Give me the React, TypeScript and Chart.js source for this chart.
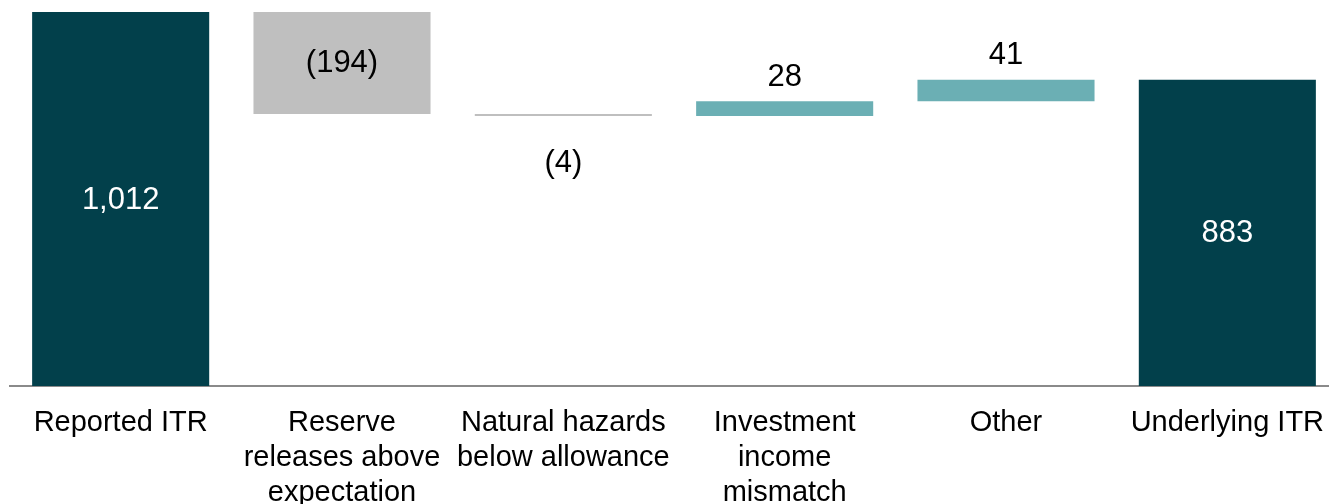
import React, { useEffect, useRef } from "react";
import { Chart, registerables } from "chart.js";

Chart.register(...registerables);

// ---- data ----
const categories: string[][] = [
  ["Reported ITR"],
  ["Reserve", "releases above", "expectation"],
  ["Natural hazards", "below allowance"],
  ["Investment", "income", "mismatch"],
  ["Other"],
  ["Underlying ITR"],
];
const startTotal = 1012;
const changes = [-194, -4, 28, 41];
const endTotal = 883;
const yMin = 300;
const yMax = 1012;

// ---- styles ----
const TOTAL_COLOR = "#02404B";
const NEG_COLOR = "#BFBFBF";
const POS_COLOR = "#6BAFB4";
const FONT = "'Liberation Sans', Arial, sans-serif";

function buildRanges() {
  const ranges: [number, number][] = [[0, startTotal]];
  const colors: string[] = [TOTAL_COLOR];
  const values: number[] = [startTotal];
  const kinds: string[] = ["total"];
  let run = startTotal;
  for (const c of changes) {
    ranges.push([run, run + c]);
    colors.push(c < 0 ? NEG_COLOR : POS_COLOR);
    values.push(c);
    kinds.push(c < 0 ? "neg" : "pos");
    run += c;
  }
  ranges.push([0, endTotal]);
  colors.push(TOTAL_COLOR);
  values.push(endTotal);
  kinds.push("total");
  return { ranges, colors, values, kinds };
}

function fmt(v: number) {
  const s = Math.abs(v).toLocaleString("en-US");
  return v < 0 ? `(${s})` : s;
}

export default function App() {
  const ref = useRef<HTMLCanvasElement | null>(null);

  useEffect(() => {
    if (!ref.current) return;
    const { ranges, colors, values, kinds } = buildRanges();

    const labelPlugin = {
      id: "wfLabels",
      afterDatasetsDraw(chart: any) {
        const ctx = chart.ctx;
        const meta = chart.getDatasetMeta(0);
        const area = chart.chartArea;
        ctx.save();
        ctx.font = `31px ${FONT}`;
        ctx.textAlign = "center";
        ctx.textBaseline = "middle";
        meta.data.forEach((el: any, i: number) => {
          const top = Math.max(area.top, Math.min(el.y, el.base));
          const bottom = Math.min(area.bottom, Math.max(el.y, el.base));
          const h = bottom - top;
          const text = fmt(values[i]);
          let y: number;
          let color = "#000";
          if (kinds[i] === "total") {
            y = (top + bottom) / 2 + 1;
            color = "#FFFFFF";
          } else if (h >= 60) {
            y = (top + bottom) / 2 + 1;
          } else if (kinds[i] === "neg") {
            y = bottom + 47;
          } else {
            y = top - 24;
          }
          ctx.fillStyle = color;
          ctx.fillText(text, el.x, y);
        });
        ctx.restore();
      },
    };

    const chart = new Chart(ref.current, {
      type: "bar",
      data: {
        labels: categories as any,
        datasets: [
          {
            data: ranges as any,
            backgroundColor: colors,
            borderWidth: 0,
            categoryPercentage: 1,
            barPercentage: 0.8,
          },
        ],
      },
      options: {
        responsive: false,
        animation: false,
        devicePixelRatio: 1,
        layout: { padding: { left: 10, right: 2, top: 12, bottom: 0 } },
        plugins: {
          legend: { display: false },
          tooltip: { enabled: false },
        },
        scales: {
          x: {
            grid: { display: false, drawTicks: false },
            border: { display: true, color: "#8A8A8A", width: 2 },
            ticks: {
              color: "#000",
              font: { family: FONT, size: 29, lineHeight: 1.2 },
              padding: 20,
              autoSkip: false,
              maxRotation: 0,
              minRotation: 0,
            },
            afterFit: (scale: any) => {
              scale.height = 118;
              scale.paddingLeft = 0;
              scale.paddingRight = 0;
            },
          },
          y: {
            display: false,
            min: yMin,
            max: yMax,
          },
        },
      },
      plugins: [labelPlugin],
    });
    return () => chart.destroy();
  }, []);

  return (
    <div
      style={{
        position: "fixed",
        left: 0,
        top: 0,
        width: 1329,
        height: 504,
        overflow: "hidden",
        background: "#fff",
      }}
    >
      <canvas ref={ref} width={1340} height={504} style={{ display: "block" }} />
    </div>
  );
}
